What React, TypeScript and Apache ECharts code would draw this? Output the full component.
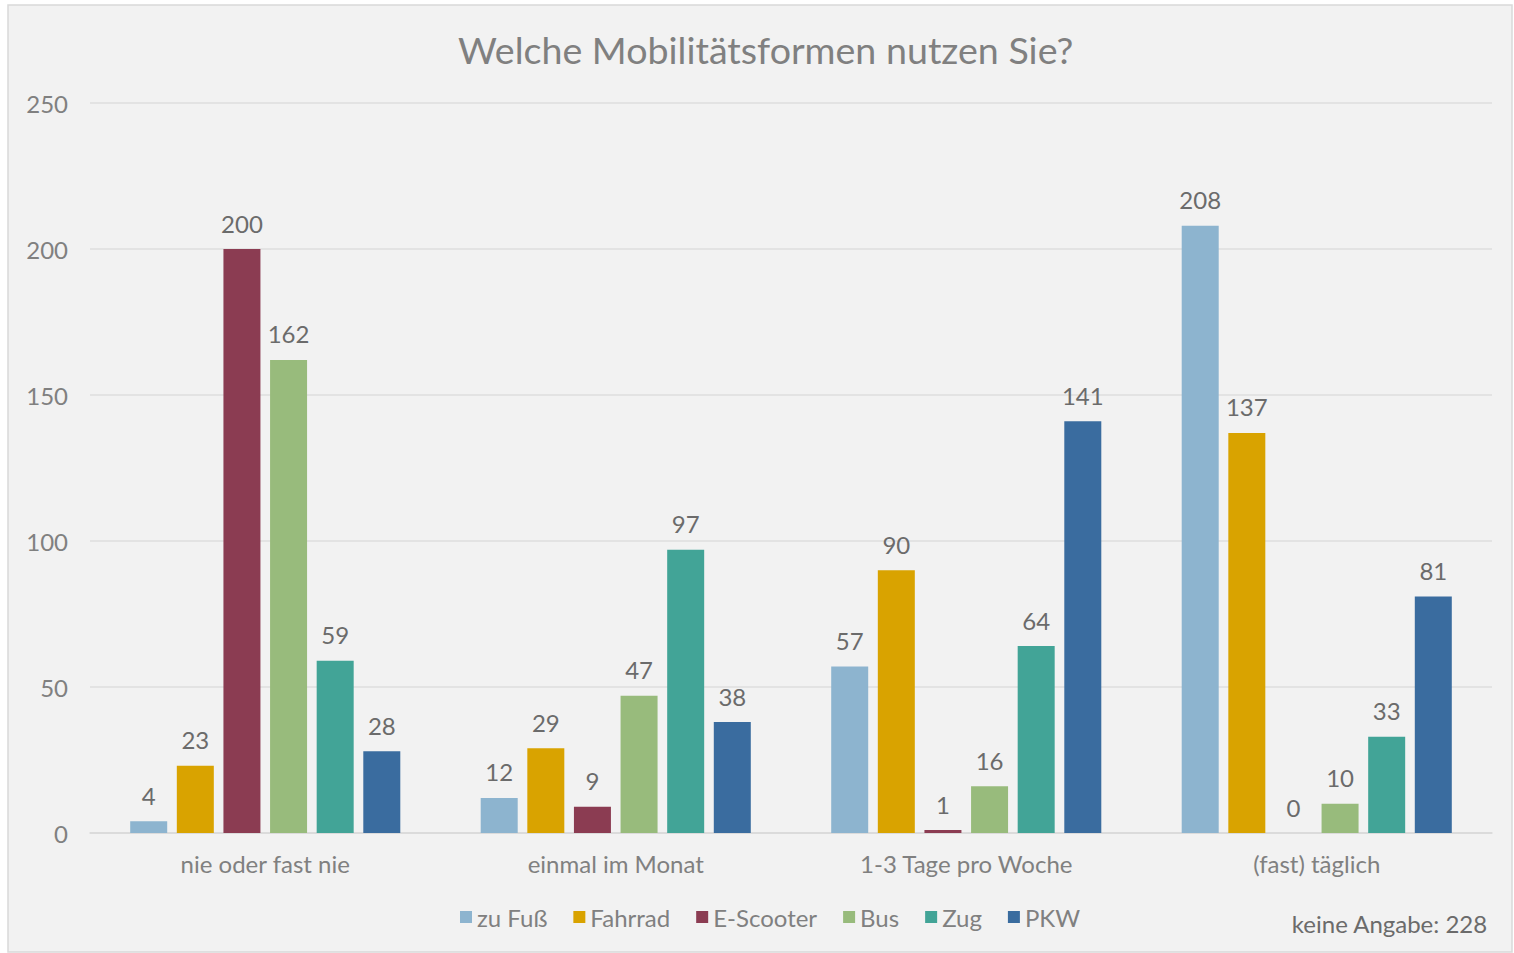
import React, { useEffect, useRef } from "react";
import * as echarts from "echarts";

const categories = ["nie oder fast nie", "einmal im Monat", "1-3 Tage pro Woche", "(fast) täglich"];
const seriesNames = ["zu Fuß", "Fahrrad", "E-Scooter", "Bus", "Zug", "PKW"];
const zuFuss = [4, 12, 57, 208];
const fahrrad = [23, 29, 90, 137];
const eScooter = [200, 9, 1, 0];
const bus = [162, 47, 16, 10];
const zug = [59, 97, 64, 33];
const pkw = [28, 38, 141, 81];
const seriesValues = [zuFuss, fahrrad, eScooter, bus, zug, pkw];
const colors = ["#8db4cf", "#d9a300", "#8b3c52", "#98bb7c", "#42a497", "#3a6c9f"];
const yTicks = [0, 50, 100, 150, 200, 250];

const FONT = "Lato, 'Open Sans', sans-serif";

export default function App() {
  const ref = useRef<HTMLDivElement>(null);
  useEffect(() => {
    if (!ref.current) return;
    const chart = echarts.init(ref.current, null, { renderer: "svg" });
    chart.setOption({
      animation: false,
      backgroundColor: "#ffffff",
      textStyle: { fontFamily: FONT },
      graphic: [
        {
          type: "rect",
          z: -10,
          shape: { x: 8, y: 5, width: 1504, height: 947 },
          style: { fill: "#f2f2f2", stroke: "#d9d9d9", lineWidth: 1.5 },
          silent: true,
        },
        {
          type: "text",
          right: 26,
          top: 911,
          style: {
            text: "keine Angabe: 228",
            fill: "#6b6b6b",
            font: `24px ${FONT}`,
          },
        },
      ],
      title: {
        text: "Welche Mobilitätsformen nutzen Sie?",
        left: 453,
        top: 25,
        textStyle: { fontFamily: FONT, fontSize: 37.6, fontWeight: "normal", color: "#808080" },
      },
      legend: {
        data: seriesNames,
        left: 455,
        top: 900,
        itemWidth: 12,
        itemHeight: 12,
        itemGap: 26,
        icon: "rect",
        textStyle: { fontFamily: FONT, fontSize: 24, color: "#808080" },
      },
      grid: { left: 90, right: 22, top: 103, bottom: 120, containLabel: false },
      xAxis: {
        type: "category",
        data: categories,
        axisTick: { show: false },
        axisLine: { lineStyle: { color: "#d9d9d9", width: 1.5 } },
        axisLabel: { fontFamily: FONT, fontSize: 24, color: "#808080", margin: 18 },
      },
      yAxis: {
        type: "value",
        min: yTicks[0],
        max: yTicks[yTicks.length - 1],
        interval: 50,
        axisLabel: { fontFamily: FONT, fontSize: 24, color: "#808080", margin: 22 },
        splitLine: { lineStyle: { color: "#dedede", width: 1.5 } },
        axisLine: { show: false },
        axisTick: { show: false },
      },
      series: seriesValues.map((vals, i) => ({
        name: seriesNames[i],
        type: "bar",
        data: vals,
        barWidth: 37,
        barGap: "26%",
        itemStyle: { color: colors[i] },
        label: {
          show: true,
          position: "top",
          distance: 14,
          fontFamily: FONT,
          fontSize: 24,
          color: "#6b6b6b",
        },
      })),
    });
    return () => chart.dispose();
  }, []);
  return (
    <div
      ref={ref}
      style={{ position: "fixed", left: 0, top: 0, width: 1514, height: 953 }}
    />
  );
}
